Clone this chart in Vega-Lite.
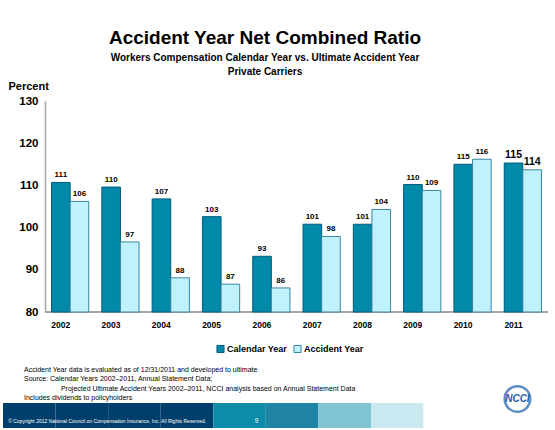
{
  "$schema": "https://vega.github.io/schema/vega-lite/v6.json",
  "padding": {"left": 3, "top": 29, "right": 0, "bottom": 2},
  "background": "white",
  "config": {"view": {"stroke": null}, "font": "Liberation Sans"},
  "title": {
    "text": "Accident Year Net Combined Ratio",
    "subtitle": ["Workers Compensation Calendar Year vs. Ultimate Accident Year", "Private Carriers"],
    "font": "Liberation Sans", "fontSize": 19, "fontWeight": "bold", "color": "black",
    "subtitleFont": "Liberation Sans", "subtitleFontSize": 10, "subtitleFontWeight": "bold", "subtitleColor": "black",
    "subtitlePadding": 5, "subtitleLineHeight": 14, "anchor": "middle", "offset": 3, "dx": -14
  },
  "spacing": 10,
  "resolve": {
    "scale": {"x": "independent", "fill": "independent", "stroke": "independent"},
    "legend": {"fill": "independent", "stroke": "independent"}
  },
  "vconcat": [
    {
      "width": 545,
      "height": 211,
      "data": {"values": [
        {"year": "2002", "series": "Calendar Year", "value": 110.7},
        {"year": "2002", "series": "Accident Year", "value": 106.2},
        {"year": "2003", "series": "Calendar Year", "value": 109.6},
        {"year": "2003", "series": "Accident Year", "value": 96.6},
        {"year": "2004", "series": "Calendar Year", "value": 106.8},
        {"year": "2004", "series": "Accident Year", "value": 88.1},
        {"year": "2005", "series": "Calendar Year", "value": 102.6},
        {"year": "2005", "series": "Accident Year", "value": 86.6},
        {"year": "2006", "series": "Calendar Year", "value": 93.2},
        {"year": "2006", "series": "Accident Year", "value": 85.7},
        {"year": "2007", "series": "Calendar Year", "value": 100.8},
        {"year": "2007", "series": "Accident Year", "value": 97.9},
        {"year": "2008", "series": "Calendar Year", "value": 100.8},
        {"year": "2008", "series": "Accident Year", "value": 104.3},
        {"year": "2009", "series": "Calendar Year", "value": 110.2},
        {"year": "2009", "series": "Accident Year", "value": 108.8},
        {"year": "2010", "series": "Calendar Year", "value": 115.0},
        {"year": "2010", "series": "Accident Year", "value": 116.2},
        {"year": "2011", "series": "Calendar Year", "value": 115.3},
        {"year": "2011", "series": "Accident Year", "value": 113.7}
      ]},
      "layer": [
        {
          "mark": {"type": "rule", "color": "#A6A6A6", "strokeWidth": 1.5},
          "encoding": {
            "x": {"datum": "2002", "type": "nominal", "bandPosition": -0.175},
            "x2": {"datum": "2011", "bandPosition": 1.175},
            "y": {"datum": 80, "type": "quantitative"}
          }
        },
        {
          "mark": {"type": "bar", "strokeWidth": 1},
          "encoding": {
            "x": {"field": "year", "type": "nominal", "title": null,
              "scale": {"range": [42, 545], "paddingInner": 0.26, "paddingOuter": 0.13},
              "axis": {"labelAngle": 0, "ticks": false, "domain": false,
                "labelFontSize": 8.5, "labelFontWeight": "bold", "labelColor": "black", "labelPadding": 12}},
            "xOffset": {"field": "series", "type": "nominal", "sort": ["Calendar Year", "Accident Year"], "scale": {"paddingInner": 0, "paddingOuter": 0}},
            "y": {"field": "value", "type": "quantitative",
              "scale": {"domain": [80, 130], "zero": false, "nice": false},
              "axis": {"values": [80, 90, 100, 110, 120, 130], "grid": false, "ticks": false, "offset": -42,
                "domainColor": "#A6A6A6", "domainWidth": 1.5,
                "labelFontSize": 11.5, "labelFontWeight": "bold", "labelColor": "black", "labelPadding": 7,
                "title": "Percent", "titleAngle": 0, "titleAlign": "left", "titleBaseline": "bottom",
                "titleX": -37, "titleY": -10, "titleFontSize": 11, "titleFontWeight": "bold", "titleColor": "black"}},
            "y2": {"datum": 80},
            "fill": {"field": "series", "type": "nominal",
              "scale": {"domain": ["Calendar Year", "Accident Year"], "range": ["#0089A8", "#BFF2FC"]},
              "legend": {"orient": "none", "legendX": 213, "legendY": 243, "direction": "horizontal", "title": null,
                "symbolType": "square", "symbolSize": 50, "symbolStrokeWidth": 1,
                "labelFontSize": 9, "labelFontWeight": "bold", "labelColor": "black", "columnPadding": 3, "labelOffset": 2}},
            "stroke": {"field": "series", "type": "nominal",
              "scale": {"domain": ["Calendar Year", "Accident Year"], "range": ["#005C7A", "#3C84A3"]}}
          }
        },
        {
          "mark": {"type": "text", "baseline": "bottom", "dy": -3, "fontWeight": "bold", "color": "black"},
          "encoding": {
            "x": {"field": "year", "type": "nominal"},
            "xOffset": {"field": "series", "type": "nominal", "sort": ["Calendar Year", "Accident Year"]},
            "y": {"field": "value", "type": "quantitative"},
            "text": {"field": "value", "type": "quantitative", "format": ".0f"},
            "size": {"condition": {"test": "datum.year === '2011'", "value": 10.5}, "value": 8}
          }
        }
      ]
    },
    {
      "width": 552,
      "height": 25,
      "title": {
        "text": [
          "Accident Year data is evaluated as of 12/31/2011 and developed to ultimate",
          "Source:  Calendar Years 2002–2011, Annual Statement Data;",
          "\u200b\u00a0\u00a0\u00a0\u00a0\u00a0\u00a0\u00a0\u00a0\u00a0\u00a0\u00a0\u00a0\u00a0\u00a0\u00a0\u00a0\u00a0\u00a0\u00a0Projected Ultimate Accident Years 2002–2011, NCCI analysis based on Annual Statement Data",
          "Includes dividends to policyholders"
        ],
        "anchor": "start", "frame": "group", "fontSize": 7, "fontWeight": "normal", "color": "black",
        "lineHeight": 9.5, "dx": 21, "offset": -20
      },
      "layer": [
        {
          "data": {"values": [
            {"seg": "a", "tone": "navy"}, {"seg": "b", "tone": "navy"}, {"seg": "c", "tone": "navy"}, {"seg": "d", "tone": "navy"},
            {"seg": "e", "tone": "teal"}, {"seg": "f", "tone": "steel"}, {"seg": "g", "tone": "sky"}, {"seg": "h", "tone": "ice"},
            {"seg": "i", "tone": "white"}, {"seg": "j", "tone": "white"}
          ]},
          "mark": {"type": "rect"},
          "encoding": {
            "x": {"field": "seg", "type": "nominal", "sort": null, "axis": null,
              "scale": {"domain": ["a","b","c","d","e","f","g","h","i","j"], "paddingInner": 0, "paddingOuter": 0.25, "align": 0}},
            "fill": {"field": "tone", "type": "nominal", "legend": null,
              "scale": {"domain": ["navy", "teal", "steel", "sky", "ice", "white"],
                "range": ["#003F6B", "#0D8CAA", "#1F84A6", "#80C3D3", "#C9E8EF", "#FFFFFF"]}}
          }
        },
        {
          "data": {"values": [
            {"seg": "a", "note": "© Copyright 2012 National Council on Compensation Insurance, Inc. All Rights Reserved."}
          ]},
          "mark": {"type": "text", "align": "left", "dx": -21, "dy": 5, "fontSize": 5, "color": "white"},
          "encoding": {
            "x": {"field": "seg", "type": "nominal"},
            "text": {"field": "note"}
          }
        },
        {
          "data": {"values": [{"seg": "e", "note": "9"}]},
          "mark": {"type": "text", "align": "center", "dx": 17, "dy": 5, "fontSize": 6.5, "color": "white"},
          "encoding": {
            "x": {"field": "seg", "type": "nominal"},
            "text": {"field": "note"}
          }
        },
        {
          "data": {"values": [{"seg": "j", "logo": "NCCI"}]},
          "mark": {"type": "point", "shape": "circle", "filled": false, "size": 650, "strokeWidth": 2.5, "color": "#1B5FA8", "xOffset": 15, "yOffset": -16.5},
          "encoding": {
            "x": {"field": "seg", "type": "nominal"}
          }
        },
        {
          "data": {"values": [{"seg": "j", "note": "NCCI"}]},
          "mark": {"type": "text", "align": "center", "dx": 15, "dy": -16.5, "fontSize": 10, "fontWeight": "bold", "fontStyle": "italic", "color": "#1B5FA8"},
          "encoding": {
            "x": {"field": "seg", "type": "nominal"},
            "text": {"field": "note"}
          }
        }
      ]
    }
  ]
}
